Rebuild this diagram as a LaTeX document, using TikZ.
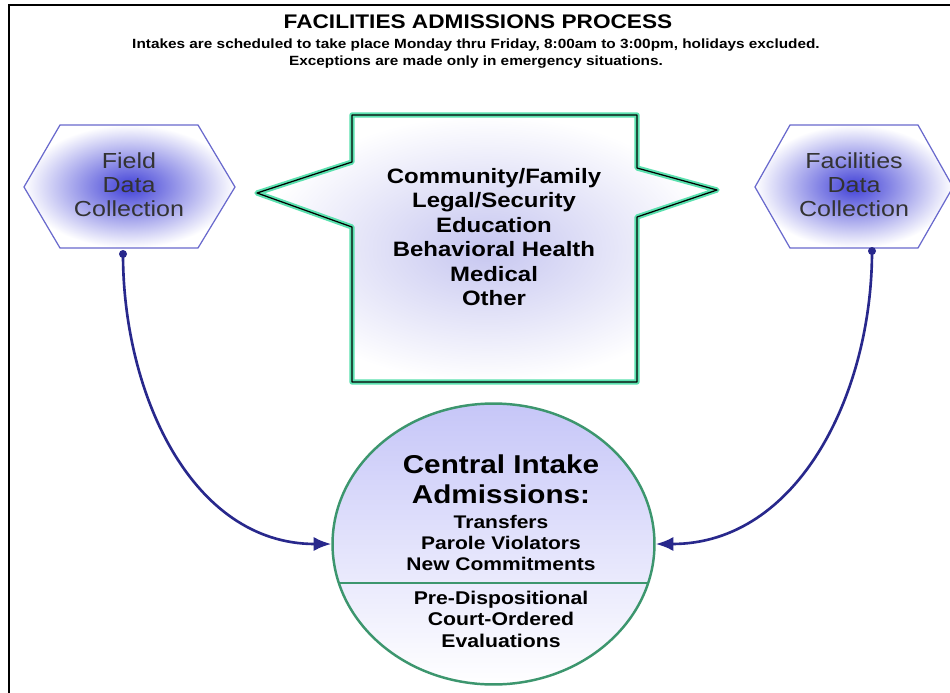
\documentclass[tikz,border=0pt]{standalone}
\usepackage{fontspec}
\setmainfont{Liberation Sans}[FakeStretch=1.15]
\usetikzlibrary{arrows.meta,shapes.geometric}
\definecolor{hexblue}{RGB}{65,65,215}
\definecolor{hexline}{RGB}{105,105,205}
\definecolor{callglow}{RGB}{90,225,175}
\definecolor{callfill}{RGB}{198,198,240}
\definecolor{ringfill}{RGB}{198,198,248}
\definecolor{ringgreen}{RGB}{60,150,110}
\definecolor{arrowblue}{RGB}{40,40,140}
\newcommand{\fsz}[2]{\fontsize{#1pt}{#2pt}\selectfont}

\begin{document}
\begin{tikzpicture}[x=0.02cm, y=-0.02cm,
  hexbox/.style={draw=hexline, line width=0.7pt, inner color=hexblue, outer color=white},
  hextext/.style={align=center, text=black!80, inner sep=0pt, font=\fsz{12.4}{13.6}},
  link/.style={draw=arrowblue, line width=1.5pt, -{Latex[length=10pt,width=8pt]}},
  heavy/.style={align=center, inner sep=0pt}]
  \useasboundingbox (0,0) rectangle (950,693);
  \fill[white] (0,0) rectangle (950,693);
  \draw[line width=1.3pt] (9,693) -- (9,5) -- (950,5);

  \node[heavy, font=\bfseries\fsz{11.2}{12}] (title) at (478,22) {FACILITIES ADMISSIONS PROCESS};
  \node[heavy, font=\bfseries\fsz{7.6}{9.6}] (hours) at (476,53.5)
    {Intakes are scheduled to take place Monday thru Friday, 8:00am to 3:00pm, holidays excluded.\\
     Exceptions are made only in emergency situations.};

  \shade[hexbox] (24,187) -- (60,125) -- (198,125) -- (235,187) -- (198,248) -- (60,248) -- cycle;
  \shade[hexbox] (755,187) -- (790,125) -- (918,125) -- (953,187) -- (918,248) -- (790,248) -- cycle;
  \node[hextext] (field) at (129,185) {Field\\Data\\Collection};
  \node[hextext] (facil) at (854,185) {Facilities\\Data\\Collection};

  \shade[inner color=callfill, outer color=white, draw=callglow, line width=3pt, line join=round]
    (352,115) -- (637,115) -- (637,168) -- (717,190) -- (637,217) -- (637,382) -- (352,382)
    -- (352,227) -- (257,193) -- (352,162) -- cycle;
  \draw[line width=0.7pt, line join=round]
    (352,115) -- (637,115) -- (637,168) -- (717,190) -- (637,217) -- (637,382) -- (352,382)
    -- (352,227) -- (257,193) -- (352,162) -- cycle;
  \node[heavy, font=\bfseries\fsz{11.85}{13.9}] (topics) at (494,237)
    {Community/Family\\Legal/Security\\Education\\Behavioral Health\\Medical\\Other};

  \node[ellipse, draw=ringgreen, line width=1.4pt, top color=ringfill, bottom color=white,
    minimum width=6.44cm, minimum height=5.62cm, inner sep=0pt] (central) at (493.5,544) {};
  \draw[ringgreen, line width=1.4pt] (340,583) -- (647,583);
  \node[heavy, font=\bfseries\fsz{14.7}{17}] (intake) at (501,479) {Central Intake\\Admissions:};
  \node[heavy, font=\bfseries\fsz{10.4}{12.2}] (kinds) at (501,543)
    {Transfers\\Parole Violators\\New Commitments};
  \node[heavy, font=\bfseries\fsz{10.5}{12.2}] (evals) at (501,619)
    {Pre-Dispositional\\Court-Ordered\\Evaluations};

  \coordinate (fieldout) at (123,254);
  \coordinate (facilout) at (872,251);
  \fill[arrowblue] (fieldout) circle (4);
  \fill[arrowblue] (facilout) circle (4);
  \draw[link] (fieldout) to[out=-90, in=180] (central.west);
  \draw[link] (facilout) to[out=-90, in=0] (central.east);
\end{tikzpicture}
\end{document}
